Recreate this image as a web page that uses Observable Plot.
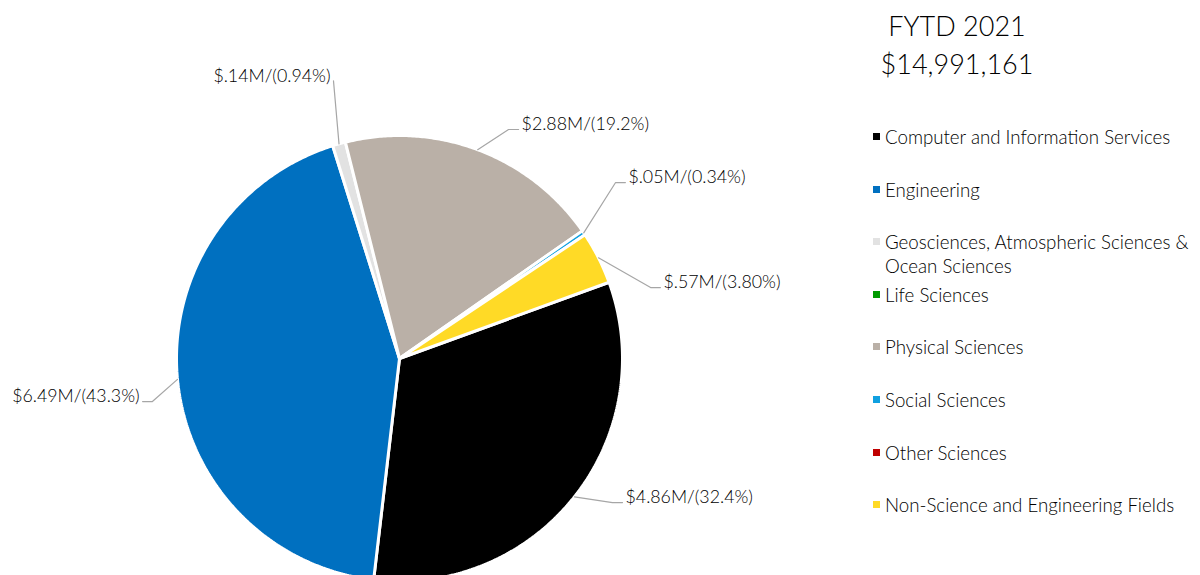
<!DOCTYPE html>
<html>
<head>
<meta charset="utf-8">
<script src="https://cdn.jsdelivr.net/npm/d3@7"></script>
<script src="https://cdn.jsdelivr.net/npm/@observablehq/plot@0.6"></script>
<style>
  html, body { margin: 0; padding: 0; background: #fff; }
  body { font-family: Lato, "Noto Sans", sans-serif; font-weight: 300; color: #000; }
  #wrap { position: relative; width: 1200px; height: 575px; overflow: hidden; }
  #chart { position: absolute; left: 0; top: 0; }
  #title { position: absolute; left: 957px; top: 7px; transform: translateX(-50%);
           text-align: center; font-size: 27px; line-height: 38px; white-space: nowrap; }
  .leg { position: absolute; left: 873px; font-size: 18.7px; line-height: 24px; }
  .leg .sw { position: absolute; left: 0; top: 8px; width: 7px; height: 7px; }
  .leg .tx { position: absolute; left: 12px; top: 0; width: 320px; }
  svg text { font-weight: 300; }
</style>
</head>
<body>
<div id="wrap">
  <div id="chart"></div>
  <div id="title"></div>
  <div id="legend"></div>
</div>
<script>
// ---- data ----
const categories = [
  "Computer and Information Services",
  "Engineering",
  "Geosciences, Atmospheric Sciences & Ocean Sciences",
  "Life Sciences",
  "Physical Sciences",
  "Social Sciences",
  "Other Sciences",
  "Non-Science and Engineering Fields"
];
const valuesM = [4.857, 6.491, 0.141, 0, 2.878, 0.051, 0, 0.570];
const dataLabels = [
  "$4.86M/(32.4%)", "$6.49M/(43.3%)", "$.14M/(0.94%)", "",
  "$2.88M/(19.2%)", "$.05M/(0.34%)", "", "$.57M/(3.80%)"
];
const colors = ["#000000", "#0070C0", "#E2E2E2", "#009A00", "#BAB0A7", "#10A0E0", "#C00000", "#FFDA26"];
const titleLines = ["FYTD 2021", "$14,991,161"];

// ---- layout (not data) ----
const W = 1200, H = 575;
const CX = 399, CY = 358, R = 223;          // pie centre & radius in px
const firstSliceDeg = 70;                   // rotation of first slice
// leader elbow [x, y] and end x, in pie-radius units from centre
const leaderLayout = [
  [0.955, 0.646, 1.000],
  [-1.108, 0.193, -1.152],
  [-0.296, -1.245, -0.296],
  null,
  [0.489, -1.027, 0.534],
  [0.969, -0.789, 1.013],
  null,
  [1.126, -0.318, 1.170]
];

// ---- slices ----
const a0 = firstSliceDeg * Math.PI / 180;
const arcs = d3.pie().sort(null).startAngle(a0).endAngle(a0 + 2 * Math.PI)(valuesM);

const slicePts = [];
arcs.forEach((a, i) => {
  if (a.value <= 0) return;
  const key = categories[i];
  slicePts.push({key, x: 0, y: 0});
  const n = Math.max(2, Math.ceil((a.endAngle - a.startAngle) / (Math.PI / 360)));
  for (let k = 0; k <= n; k++) {
    const t = a.startAngle + (a.endAngle - a.startAngle) * k / n;
    slicePts.push({key, x: Math.sin(t), y: -Math.cos(t)});
  }
  slicePts.push({key, x: 0, y: 0});
});

const leaderPts = [];
const labelRows = [];
arcs.forEach((a, i) => {
  const L = leaderLayout[i];
  if (a.value <= 0 || !L) return;
  const key = categories[i];
  const m = (a.startAngle + a.endAngle) / 2;
  leaderPts.push({key, x: Math.sin(m), y: -Math.cos(m)});
  leaderPts.push({key, x: L[0], y: L[1]});
  leaderPts.push({key, x: L[2], y: L[1]});
  labelRows.push({key, x: L[2], y: L[1], text: dataLabels[i], right: L[2] >= 0});
});

const plot = Plot.plot({
  width: W, height: H,
  margin: 0,
  style: {background: "#fff", fontFamily: "Lato, 'Noto Sans', sans-serif", overflow: "visible"},
  x: {domain: [-CX / R, (W - CX) / R], range: [0, W], axis: null},
  y: {domain: [-CY / R, (H - CY) / R], range: [0, H], axis: null},
  color: {domain: categories, range: colors},
  marks: [
    Plot.line(slicePts, {x: "x", y: "y", z: "key", fill: "key", stroke: "white", strokeWidth: 3, strokeLinejoin: "miter", curve: "linear"}),
    Plot.line(leaderPts, {x: "x", y: "y", z: "key", stroke: "#A6A6A6", strokeWidth: 1.2, curve: "linear"}),
    Plot.text(labelRows.filter(d => d.right), {x: "x", y: "y", text: "text", textAnchor: "start", dx: 3, dy: -5, fontSize: 17.8, fill: "#000"}),
    Plot.text(labelRows.filter(d => !d.right), {x: "x", y: "y", text: "text", textAnchor: "end", dx: -3, dy: -5, fontSize: 17.8, fill: "#000"})
  ]
});
document.getElementById("chart").appendChild(plot);

// ---- title ----
document.getElementById("title").innerHTML = titleLines.map(t => `<div>${t}</div>`).join("");

// ---- legend ----
const legend = document.getElementById("legend");
categories.forEach((c, i) => {
  const yc = 137 + i * 52.6;
  const item = document.createElement("div");
  item.className = "leg";
  item.style.top = (yc - 12) + "px";
  const sw = document.createElement("div");
  sw.className = "sw";
  sw.style.background = colors[i];
  const tx = document.createElement("div");
  tx.className = "tx";
  tx.textContent = c;
  item.appendChild(sw);
  item.appendChild(tx);
  legend.appendChild(item);
});
</script>
</body>
</html>
